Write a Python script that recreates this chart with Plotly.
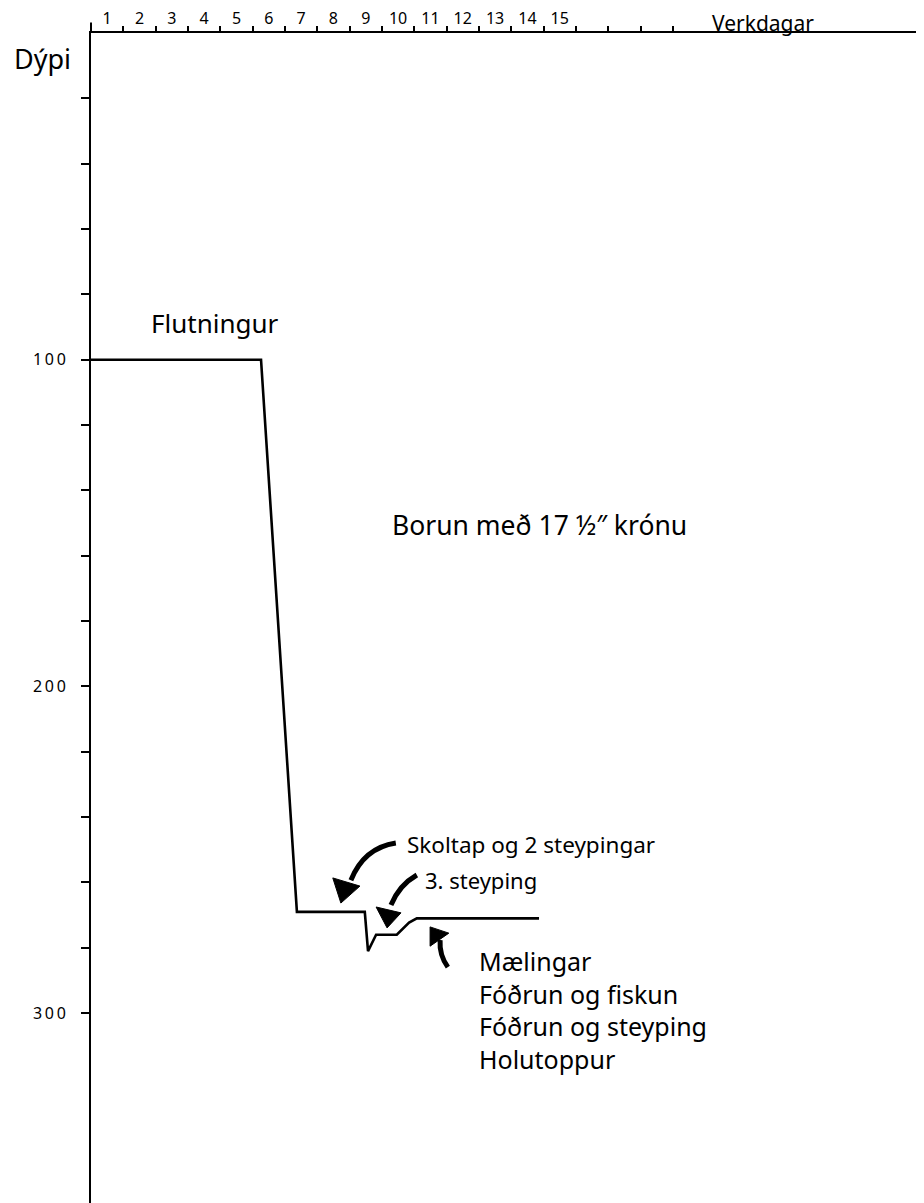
import plotly.graph_objects as go

# ---- data (days elapsed, depth in m) ----
days = [0, 5.26, 6.37, 8.47, 8.57, 8.82, 9.46, 9.84, 10.08, 13.86]
depth = [100, 100, 269, 269, 281, 276, 276, 272.3, 271, 271]

day_labels = [str(i) for i in range(1, 16)]
day_label_pos = [i - 0.5 for i in range(1, 16)]
day_ticks = list(range(0, 19))
depth_ticks = list(range(20, 301, 20))
depth_ticktext = ["\u2009".join(str(v)) if v % 100 == 0 else "" for v in depth_ticks]

operations = ["Mælingar", "Fóðrun og fiskun", "Fóðrun og steyping", "Holutoppur"]

# text notes in data coords: (text, day, depth, xanchor, size)
notes = [
    ("Flutningur", 3.84, 88.8, "center", 26),
    ("Borun með 17 ½″ krónu", 9.25, 150.6, "left", 26.5),
    ("Skoltap og 2 steypingar", 9.71, 248.5, "left", 22.5),
    ("3. steyping", 10.27, 259.3, "left", 22),
    ("<br>".join(operations), 11.94, 299.05, "left", 25),
]
# axis titles in paper coords: (text, x, y, size)
titles = [
    ("Dýpi", -0.0588, 0.9786, 27),
    ("Verkdagar", 0.8067, 1.00897, 21),
]

# curved arrows: shaft (start, control, end) and head (tip, base1, base2)
arrows = [
    dict(shaft=[(9.43, 247.9), (8.44, 249.4), (8.04, 259.3)],
         head=[(7.73, 266.3), (7.48, 258.6), (8.32, 261.1)]),
    dict(shaft=[(10.08, 257.7), (9.53, 260.8), (9.28, 266.9)],
         head=[(9.16, 273.9), (8.82, 267.5), (9.59, 269.3)]),
    dict(shaft=[(11.04, 285.9), (10.77, 282.2), (10.80, 277.6)],
         head=[(10.49, 273.6), (10.49, 279.5), (11.07, 275.5)]),
]

FONT = "Noto Sans"

fig = go.Figure()
fig.add_trace(go.Scatter(x=days, y=depth, mode="lines",
                         line=dict(color="black", width=2.6),
                         hoverinfo="skip", showlegend=False))
fig.add_trace(go.Scatter(x=[0], y=[0], xaxis="x2", yaxis="y", mode="markers",
                         marker=dict(opacity=0), hoverinfo="skip", showlegend=False))

shapes = []
for a in arrows:
    (x0, y0), (cx, cy), (x1, y1) = a["shaft"]
    shapes.append(dict(type="path", xref="x", yref="y",
                       path=f"M {x0},{y0} Q {cx},{cy} {x1},{y1}",
                       line=dict(color="black", width=5)))
    (tx, ty), (bx1, by1), (bx2, by2) = a["head"]
    shapes.append(dict(type="path", xref="x", yref="y",
                       path=f"M {tx},{ty} L {bx1},{by1} L {bx2},{by2} Z",
                       fillcolor="black", line=dict(color="black", width=1)))
# small upward extension of the depth axis above the top axis
shapes.append(dict(type="line", xref="paper", yref="paper", x0=0, x1=0,
                   y0=1, y1=1.009, line=dict(color="black", width=2)))

annotations = []
for text, x, y, anchor, size in notes:
    annotations.append(dict(text=text, x=x, y=y, xref="x", yref="y",
                            xanchor=anchor, yanchor="middle", align="left",
                            showarrow=False,
                            font=dict(family=FONT, size=size, color="black")))
for text, x, y, size in titles:
    annotations.append(dict(text=text, x=x, y=y, xref="paper", yref="paper",
                            xanchor="center", yanchor="middle", showarrow=False,
                            borderpad=0,
                            font=dict(family=FONT, size=size, color="black")))

fig.update_layout(
    width=916, height=1195, autosize=False,
    margin=dict(l=83, r=0, t=25, b=0, pad=0, autoexpand=False),
    plot_bgcolor="white", paper_bgcolor="white",
    font=dict(family=FONT, color="black"),
    shapes=shapes, annotations=annotations,
    xaxis=dict(range=[0, 25.77], side="top", showline=True, linecolor="black",
               linewidth=2, tickvals=day_label_pos, ticktext=day_labels,
               ticks="outside", ticklen=1, tickcolor="rgba(0,0,0,0)",
               tickfont=dict(family=FONT, size=16, color="black"),
               showgrid=False, zeroline=False, fixedrange=True),
    xaxis2=dict(range=[0, 25.77], overlaying="x", side="top",
                tickvals=day_ticks, ticks="outside", ticklen=6, tickwidth=2,
                tickcolor="black", showticklabels=False, showline=False,
                showgrid=False, zeroline=False),
    yaxis=dict(range=[358.1, 0], tickvals=depth_ticks, ticktext=depth_ticktext,
               ticks="outside", ticklen=8, tickwidth=2, tickcolor="black",
               showline=True, linewidth=2, linecolor="black",
               tickfont=dict(family=FONT, size=16, color="black"),
               ticklabelstandoff=12,
               showgrid=False, zeroline=False),
)

fig.write_html("out.html")
